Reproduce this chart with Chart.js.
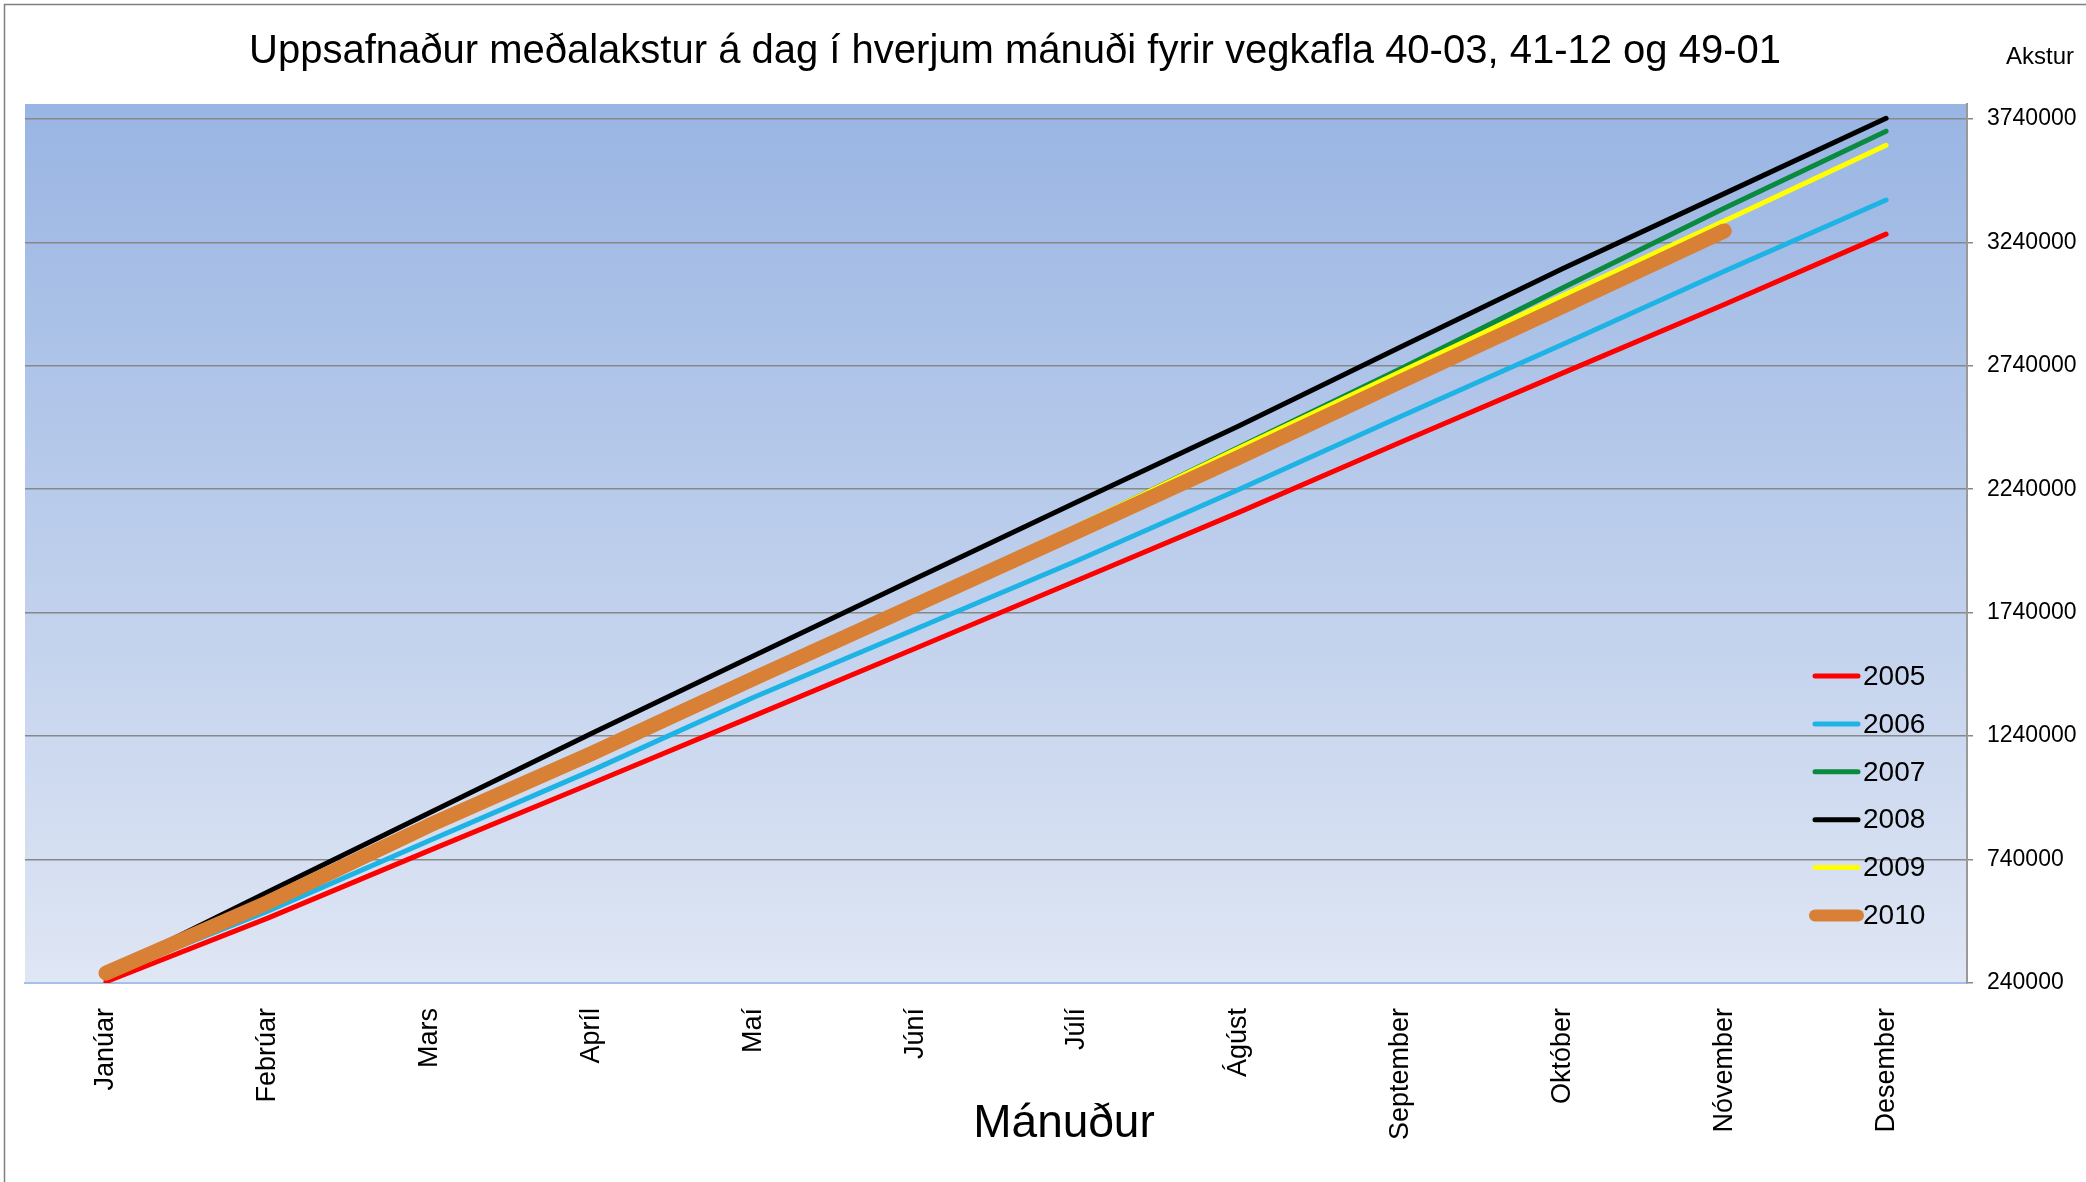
<!DOCTYPE html>
<html>
<head>
<meta charset="utf-8">
<script src="https://cdn.jsdelivr.net/npm/chart.js@4"></script>
<style>
html,body{margin:0;padding:0;background:#fff;}
canvas{display:block;}
</style>
</head>
<body>
<canvas id="c" width="2086" height="1182"></canvas>
<script>
const chartTitle = "Uppsafnaður meðalakstur á dag í hverjum mánuði fyrir vegkafla 40-03, 41-12 og 49-01";
const xTitle = "Mánuður";
const yTitle = "Akstur";
const months = ["Janúar","Febrúar","Mars","Apríl","Maí","Júní","Júlí","Ágúst","September","Október","Nóvember","Desember"];
const yTickValues = [240000,740000,1240000,1740000,2240000,2740000,3240000,3740000];
const seriesNames = ["2005","2006","2007","2008","2009","2010"];
const s2005 = [245000,503000,777000,1048000,1321000,1595000,1870000,2146000,2430000,2710000,2988000,3273000];
const s2006 = [270000,531000,817000,1100000,1396000,1673000,1950000,2239000,2534000,2826000,3123000,3411000];
const s2007 = [278000,565000,880000,1168000,1478000,1782000,2088000,2410000,2728000,3055000,3378000,3690000];
const s2008 = [285000,609000,930000,1250000,1564000,1877000,2188000,2496000,2816000,3133000,3437000,3742000];
const s2009 = [278000,566000,882000,1175000,1480000,1785000,2090000,2406000,2716000,3023000,3326000,3633000];
const s2010 = [280000,566000,879000,1169000,1472000,1770000,2068000,2369000,2676000,2980000,3286000,null];

const seriesData = [s2005,s2006,s2007,s2008,s2009,s2010];
const colors = ["#FF0000","#1DB4E5","#0A8A3F","#000000","#FFFF00","#D98037"];
const widths = [5,5,5,5,5,15];

const FONT = "'Liberation Sans', Arial, sans-serif";

const datasets = seriesNames.map((n,i)=>({
  label:n,
  data:seriesData[i],
  borderColor:colors[i],
  backgroundColor:colors[i],
  borderWidth:widths[i],
  pointRadius:0,
  pointHoverRadius:0,
  tension:0,
  fill:false,
  borderCapStyle:'round',
  borderJoinStyle:'round',
  spanGaps:false,
  order:seriesNames.length - i
}));

const decor = {
  id:'decor',
  beforeDraw(chart){
    const ctx = chart.ctx, a = chart.chartArea;
    ctx.save();
    ctx.fillStyle = '#ffffff';
    ctx.fillRect(0,0,chart.width,chart.height);
    const g = ctx.createLinearGradient(0,a.top,0,a.bottom);
    g.addColorStop(0,'#99B5E3');
    g.addColorStop(1,'#DFE6F4');
    ctx.fillStyle = g;
    ctx.fillRect(a.left,a.top,a.right-a.left,a.bottom-a.top);
    ctx.strokeStyle = '#808080';
    ctx.lineWidth = 1.5;
    ctx.beginPath();
    ctx.moveTo(4.5,chart.height+2);
    ctx.lineTo(4.5,4.5);
    ctx.lineTo(chart.width+2,4.5);
    ctx.stroke();
    ctx.restore();
  },
  afterDraw(chart){
    const ctx = chart.ctx;
    ctx.save();
    ctx.fillStyle = '#000';
    ctx.textBaseline = 'middle';
    ctx.textAlign = 'center';
    ctx.font = "40px " + FONT;
    ctx.fillText(chartTitle, 1015, 52);
    ctx.font = "24px " + FONT;
    ctx.textAlign = 'left';
    ctx.fillText(yTitle, 2006, 57);
    ctx.font = "46px " + FONT;
    ctx.textAlign = 'center';
    ctx.fillText(xTitle, 1064, 1124);
    ctx.font = "28px " + FONT;
    ctx.textAlign = 'left';
    chart.data.datasets.forEach((ds,i)=>{
      const y = 676 + i*47.9;
      ctx.strokeStyle = ds.borderColor;
      ctx.lineWidth = i===5 ? 12 : 5;
      ctx.lineCap = 'round';
      ctx.beginPath();
      ctx.moveTo(1815,y);
      ctx.lineTo(1858,y);
      ctx.stroke();
      ctx.fillStyle = '#000';
      ctx.fillText(ds.label, 1863, y+1);
    });
    ctx.restore();
  }
};

new Chart(document.getElementById('c'),{
  type:'line',
  data:{labels:months,datasets:datasets},
  options:{
    responsive:false,
    animation:false,
    devicePixelRatio:1,
    layout:{padding:{top:104,left:25,right:0,bottom:0}},
    plugins:{legend:{display:false},title:{display:false},tooltip:{enabled:false}},
    scales:{
      x:{
        type:'category',
        offset:true,
        grid:{display:false,drawTicks:false},
        border:{display:true,color:'#A8BFE8',width:2},
        ticks:{
          minRotation:90,maxRotation:90,autoSkip:false,
          padding:25,
          color:'#000',
          font:{family:FONT,size:27}
        },
        afterFit(s){ s.height = 199; }
      },
      y:{
        position:'right',
        min:240000,max:3800000,
        afterBuildTicks(s){ s.ticks = yTickValues.map(v=>({value:v})); },
        grid:{color:'#888888',lineWidth:1.5,tickLength:6,drawTicks:true},
        border:{display:true,color:'#999999',width:2},
        ticks:{
          padding:14,
          color:'#000',
          font:{family:FONT,size:23},
          callback:(v)=>String(v)
        },
        afterFit(s){ s.width = 119; }
      }
    }
  },
  plugins:[decor]
});
</script>
</body>
</html>
